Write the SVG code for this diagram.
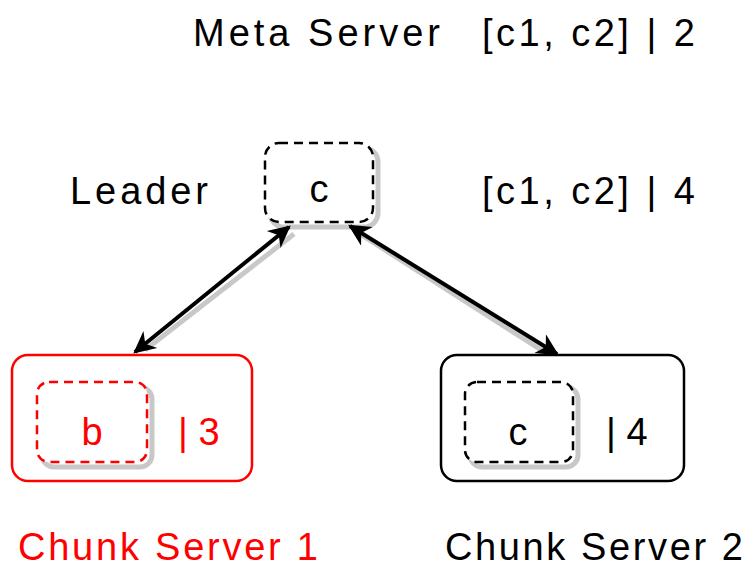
<svg xmlns="http://www.w3.org/2000/svg" width="756" height="569" viewBox="0 0 756 569">
<style>
text{font-family:"Liberation Sans","DejaVu Sans",sans-serif;font-size:38px;fill:#000}
.red{fill:#f00}
.sh{fill:none;stroke:#c8c8c8;stroke-width:5}
.dash{fill:#fff;stroke:#000;stroke-width:2.5;stroke-dasharray:9 6}
.box{fill:#fff;stroke:#000;stroke-width:2.5}
.conn{stroke:#000;stroke-width:4;fill:none}
.connsh{stroke:#c8c8c8;stroke-width:5;fill:none}
</style>
<defs>
<marker id="ah" viewBox="0 0 10 10" refX="9" refY="5" markerWidth="26" markerHeight="22" orient="auto-start-reverse" markerUnits="userSpaceOnUse">
<path d="M0,0 L10,5 L0,10 L3,5 z" fill="#000"/>
</marker>
</defs>
<rect width="756" height="569" fill="#fff"/>
<g id="meta">
<text x="193" y="46" textLength="247">Meta Server</text>
<text x="482" y="46" textLength="213">[c1, c2] | 2</text>
</g>
<g id="leader">
<text x="70" y="204" textLength="138">Leader</text>
<rect x="270" y="148" width="108" height="79" rx="14" class="sh"/>
<rect x="265" y="143" width="108" height="79" rx="14" class="dash"/>
<text x="319" y="202" text-anchor="middle">c</text>
<text x="482" y="204" textLength="213">[c1, c2] | 4</text>
</g>
<g id="connectors">
<path d="M145,350 L294,234" class="connsh"/>
<path d="M360,234 L557,360" class="connsh"/>
<path d="M135,352 L289,227" class="conn" marker-start="url(#ah)" marker-end="url(#ah)"/>
<path d="M350,226 L557,354" class="conn" marker-start="url(#ah)" marker-end="url(#ah)"/>
</g>
<g id="cs1">
<rect x="12" y="355" width="240" height="126" rx="16" fill="#fff" stroke="#f00" stroke-width="2.5"/>
<rect x="42" y="387" width="110" height="80" rx="12" class="sh"/>
<rect x="37" y="382" width="110" height="80" rx="12" fill="#fff" stroke="#f00" stroke-width="2.5" stroke-dasharray="9 6"/>
<text x="92" y="445" text-anchor="middle" class="red">b</text>
<text x="178" y="445" class="red">| 3</text>
<text x="18" y="560" class="red" textLength="300">Chunk Server 1</text>
</g>
<g id="cs2">
<rect x="441" y="355" width="243" height="126" rx="16" class="box"/>
<rect x="470" y="387" width="108" height="80" rx="12" class="sh"/>
<rect x="465" y="382" width="108" height="80" rx="12" class="dash"/>
<text x="518" y="445" text-anchor="middle">c</text>
<text x="606" y="445">| 4</text>
<text x="445" y="560" textLength="298">Chunk Server 2</text>
</g>
</svg>
